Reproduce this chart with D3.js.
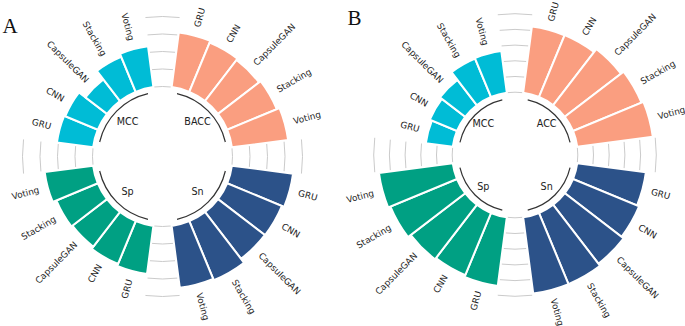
<!DOCTYPE html>
<html>
<head>
<meta charset="utf-8">
<script src="https://cdn.jsdelivr.net/npm/d3@7"></script>
<style>
  html, body { margin: 0; padding: 0; background: #ffffff; }
  svg { display: block; }
</style>
</head>
<body>
<svg id="chart" width="685" height="326"></svg>
<script>
// ---------- data ----------
const categories = ["GRU", "CNN", "CapsuleGAN", "Stacking", "Voting"];
const groupsA = ["BACC", "Sn", "Sp", "MCC"];
const groupsB = ["ACC", "Sn", "Sp", "MCC"];

// Panel A values
const a_BACC = [63.0, 60.8, 59.1, 61.4, 64.8];
const a_Sn   = [70.5, 67.8, 67.4, 73.1, 71.3];
const a_Sp   = [55.3, 53.0, 49.9, 51.3, 55.8];
const a_MCC  = [41.7, 40.3, 31.1, 43.3, 47.1];

// Panel B values
const b_ACC  = [85.0, 85.4, 90.1, 94.4, 97.1];
const b_Sn   = [88.2, 91.1, 94.5, 98.0, 98.0];
const b_Sp   = [88.2, 85.6, 87.4, 91.8, 94.8];
const b_MCC  = [34.6, 37.5, 40.6, 52.9, 53.5];

const gridTicksA = [0, 20, 40, 60, 80];
const gridTicksB = [0, 20, 40, 60, 80, 100];

const groupColors = ["#FA9E80", "#2C5289", "#00A083", "#00BCD6"];

// ---------- drawing ----------
const svg = d3.select("#chart");
const DEG = Math.PI / 180;

function drawPanel(cfg) {
  const g = svg.append("g").attr("transform", `translate(${cfg.cx},${cfg.cy})`);

  const slots = [];
  cfg.groups.forEach((grp, gi) => {
    slots.push("pad" + gi);
    categories.forEach(c => slots.push(grp + "|" + c));
  });
  const slotW = 2 * Math.PI / slots.length;
  const x = d3.scaleBand().domain(slots)
    .range([-slotW / 2, 2 * Math.PI - slotW / 2]).padding(0);
  const y = d3.scaleLinear().domain(cfg.yDomain).range([0, cfg.R]);
  const bw = x.bandwidth();

  // grid arcs in gaps
  cfg.groups.forEach((grp, gi) => {
    const c = x("pad" + gi) + bw / 2;
    cfg.ticks.forEach(t => {
      const p = d3.path();
      p.arc(0, 0, y(t), c - 7 * DEG - Math.PI / 2, c + 7 * DEG - Math.PI / 2);
      g.append("path").attr("d", p.toString())
        .attr("fill", "none").attr("stroke", "#c4c4c4").attr("stroke-width", 0.9);
    });
  });

  // bars
  const data = [];
  cfg.groups.forEach((grp, gi) => {
    cfg.values[gi].forEach((v, i) => data.push({ grp, gi, cat: categories[i], v, key: grp + "|" + categories[i] }));
  });
  const arc = d3.arc()
    .innerRadius(y(0))
    .outerRadius(d => y(d.v))
    .startAngle(d => x(d.key))
    .endAngle(d => x(d.key) + bw);
  g.selectAll("path.bar").data(data).join("path")
    .attr("class", "bar")
    .attr("d", arc)
    .attr("fill", d => groupColors[d.gi])
    .attr("stroke", "#ffffff")
    .attr("stroke-width", 2);

  // bar labels
  data.forEach(d => {
    const th = x(d.key) + bw / 2;
    const r = y(d.v) + 9;
    const deg = th / DEG;
    const px = r * Math.sin(th), py = -r * Math.cos(th);
    const right = deg < 180;
    g.append("text")
      .attr("transform", `translate(${px},${py}) rotate(${right ? deg - 90 : deg + 90})`)
      .attr("text-anchor", right ? "start" : "end")
      .attr("dominant-baseline", "central")
      .attr("font-family", "DejaVu Sans, sans-serif")
      .attr("font-size", 8.9)
      .attr("fill", "#1e1e1e")
      .text(d.cat);
  });

  // group arcs and labels
  cfg.groups.forEach((grp, gi) => {
    const a0 = (gi * 90 + 13) * DEG, a1 = (gi * 90 + 77) * DEG;
    const p = d3.path();
    p.arc(0, 0, cfg.arcR, a0 - Math.PI / 2, a1 - Math.PI / 2);
    g.append("path").attr("d", p.toString())
      .attr("fill", "none").attr("stroke", "#333333").attr("stroke-width", 1.2);
    const mid = (gi * 90 + 45) * DEG;
    g.append("text")
      .attr("x", cfg.labelR * Math.sin(mid))
      .attr("y", -cfg.labelR * Math.cos(mid))
      .attr("text-anchor", "middle")
      .attr("dominant-baseline", "central")
      .attr("font-family", "DejaVu Sans, sans-serif")
      .attr("font-size", 9.6)
      .attr("fill", "#222222")
      .text(grp);
  });

  svg.append("text")
    .attr("x", cfg.letterX).attr("y", cfg.letterY)
    .attr("font-family", "Liberation Serif, Times New Roman, serif")
    .attr("font-size", 21)
    .attr("fill", "#111111")
    .text(cfg.letter);
}

drawPanel({
  letter: "A", letterX: 2.5, letterY: 33,
  cx: 162.5, cy: 156.5, R: 157.5, yDomain: [-80, 100],
  groups: groupsA, values: [a_BACC, a_Sn, a_Sp, a_MCC], ticks: gridTicksA,
  arcR: 64.5, labelR: 49.5
});
drawPanel({
  letter: "B", letterX: 347.5, letterY: 25,
  cx: 515, cy: 155, R: 157, yDomain: [-80, 120],
  groups: groupsB, values: [b_ACC, b_Sn, b_Sp, b_MCC], ticks: gridTicksB,
  arcR: 56.5, labelR: 44.8
});
</script>
</body>
</html>
